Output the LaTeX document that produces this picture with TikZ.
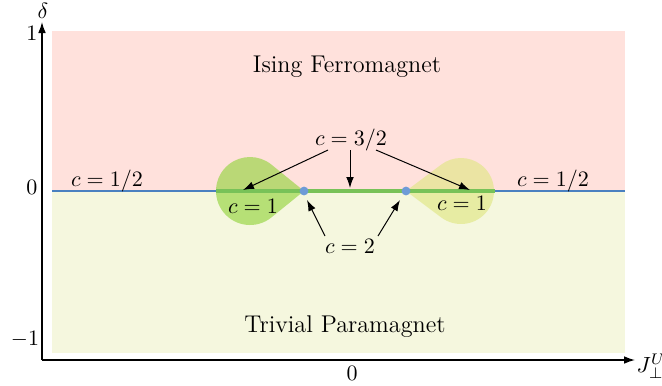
\documentclass[tikz,border=0pt]{standalone}
\usetikzlibrary{arrows.meta,calc}
\definecolor{pinkbg}{RGB}{255,225,220}
\definecolor{yellowbg}{RGB}{245,247,222}
\definecolor{bluel}{RGB}{74,128,192}
\definecolor{greenl}{RGB}{120,194,88}
\definecolor{dotc}{RGB}{110,155,215}
\definecolor{tearL}{RGB}{140,210,50}
\definecolor{tearR}{RGB}{222,230,125}
\tikzset{
  lbl/.style={inner sep=1pt},
  region/.style={inner sep=1pt, font=\fontsize{11}{13}\selectfont},
  pointer/.style={-{Latex[length=5pt,width=3.5pt]}, line width=0.45pt},
  axis/.style={-{Latex[length=5pt,width=3.5pt]}, line width=0.6pt},
  dotst/.style={circle, fill=dotc, minimum size=4pt, inner sep=0pt},
}
\begin{document}
\begin{tikzpicture}[x=0.4545pt,y=-0.4545pt]
\useasboundingbox (0,0) rectangle (662,385);
% backgrounds
\fill[pinkbg] (52,31) rectangle (625,191);
\fill[yellowbg] (52,191) rectangle (625,353);
% teardrops
\fill[tearL, opacity=0.6] (304,191) -- ($(250,191)+(51:34)$) arc[start angle=51, end angle=309, radius=34] -- cycle;
\fill[tearR, opacity=0.6] (406,191) -- ($(461,191)+(127:33)$) arc[start angle=127, end angle=-127, radius=33] -- cycle;
% lines
\coordinate (bl) at (52,191);
\coordinate (br) at (625,191);
\coordinate (gl) at (216,191);
\coordinate (gr) at (495,191);
\draw[bluel, line width=1pt] (bl) -- (br);
\draw[greenl, line width=1.4pt] (gl) -- (gr);
\node[dotst] (d1) at (304,191) {};
\node[dotst] (d2) at (406,191) {};
% axes
\coordinate (o) at (42,360);
\coordinate (ytop) at (42,22);
\coordinate (xend) at (635,360);
\draw[axis] (o) -- (ytop);
\draw[axis] (o) -- (xend);
\node[lbl] (delta) at (43,11) {$\delta$};
\node[lbl, anchor=west] (jperp) at (634,366) {$J_\perp^U$};
\node[lbl] (y1) at (32,33) {$1$};
\node[lbl] (y0) at (32,187) {$0$};
\node[lbl] (ym1) at (25,339) {$-1$};
\node[lbl] (x0) at (352,373) {$0$};
% region labels
\node[region] (ising) at (347,67) {Ising Ferromagnet};
\node[region] (triv) at (345,327) {Trivial Paramagnet};
% labels
\node[lbl] (c32) at (351,140) {$c=3/2$};
\node[lbl] (c2) at (350,246) {$c=2$};
\node[lbl] (chl) at (107,181) {$c=1/2$};
\node[lbl] (chr) at (553,181) {$c=1/2$};
\node[lbl] (c1l) at (253,206) {$c=1$};
\node[lbl] (c1r) at (462,203) {$c=1$};
% pointers
\coordinate (t1) at (243,190);
\coordinate (t2) at (350,188);
\coordinate (t3) at (470,190);
\draw[pointer] (328,150) -- (t1);
\draw[pointer] (350,150) -- (t2);
\draw[pointer] (376,150) -- (t3);
\draw[pointer] (325,236) -- ($(d1)+(3,9)$);
\draw[pointer] (378,236) -- ($(d2)+(-6,9)$);
\end{tikzpicture}
\end{document}
